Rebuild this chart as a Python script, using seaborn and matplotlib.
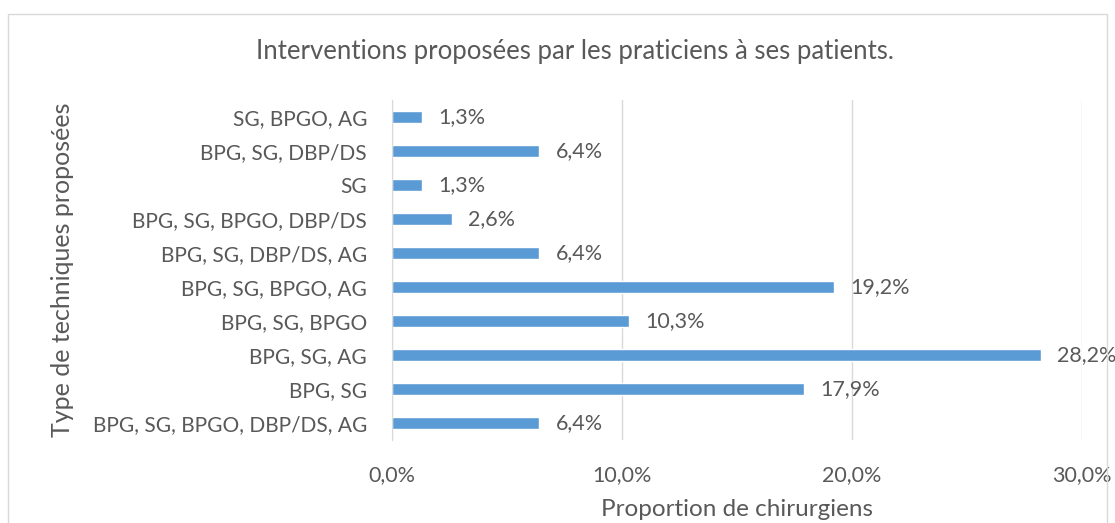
import matplotlib
matplotlib.use("Agg")
import matplotlib.pyplot as plt
from matplotlib.patches import Rectangle
from matplotlib.ticker import FuncFormatter
import seaborn as sns

# Daten (von oben nach unten)
categories = ["SG, BPGO, AG", "BPG, SG, DBP/DS", "SG", "BPG, SG, BPGO, DBP/DS",
              "BPG, SG, DBP/DS, AG", "BPG, SG, BPGO, AG", "BPG, SG, BPGO",
              "BPG, SG, AG", "BPG, SG", "BPG, SG, BPGO, DBP/DS, AG"]
values = [1.3, 6.4, 1.3, 2.6, 6.4, 19.2, 10.3, 28.2, 17.9, 6.4]
xticks = [0, 10, 20, 30]

sns.set_style("white")
plt.rcParams['font.family'] = ['Lato', 'DejaVu Sans']
txt = '#595959'

fig = plt.figure(figsize=(11.15, 5.23), dpi=100)
ax = fig.add_axes([392/1115, 1 - 440/523, 690/1115, 340/523])

sns.barplot(x=values, y=categories, orient='h', color='#5B9BD5',
            width=0.35, saturation=1, ax=ax)

# Werte an die Balken schreiben
labels = [f"{v:.1f}%".replace('.', ',') for v in values]
ax.bar_label(ax.containers[0], labels=labels, padding=12, fontsize=15.5, color=txt)

ax.set_xlim(0, 30)
ax.set_ylim(9.5, -0.5)
ax.set_xticks(xticks)
ax.xaxis.set_major_formatter(FuncFormatter(lambda v, p: f"{v:.1f}%".replace('.', ',')))
ax.grid(axis='x', color='#D9D9D9', linewidth=1)
ax.grid(axis='y', visible=False)
for s in ['top', 'right', 'bottom']:
    ax.spines[s].set_visible(False)
ax.spines['left'].set_color('#D9D9D9')
ax.tick_params(axis='x', length=0, labelsize=15.5, labelcolor=txt, pad=18)
ax.tick_params(axis='y', length=0, labelsize=15, labelcolor=txt, pad=18)

ax.set_xlabel("Proportion de chirurgiens", fontsize=17.5, color=txt, labelpad=10)
ax.set_ylabel("Type de techniques proposées", fontsize=18, color=txt)
ax.yaxis.set_label_coords(-318/690, 0.5)

# Titel
fig.text(575/1115, 1 - 52/523, "Interventions proposées par les praticiens à ses patients.",
         ha='center', va='center', fontsize=18.5, color=txt)

# Rahmen
fig.patches.append(Rectangle((8/1115, -0.05), 1099/1115, 1.05 - 14/523,
                             transform=fig.transFigure, fill=False,
                             edgecolor='#D9D9D9', linewidth=1))

fig.savefig("out.png", dpi=100)
